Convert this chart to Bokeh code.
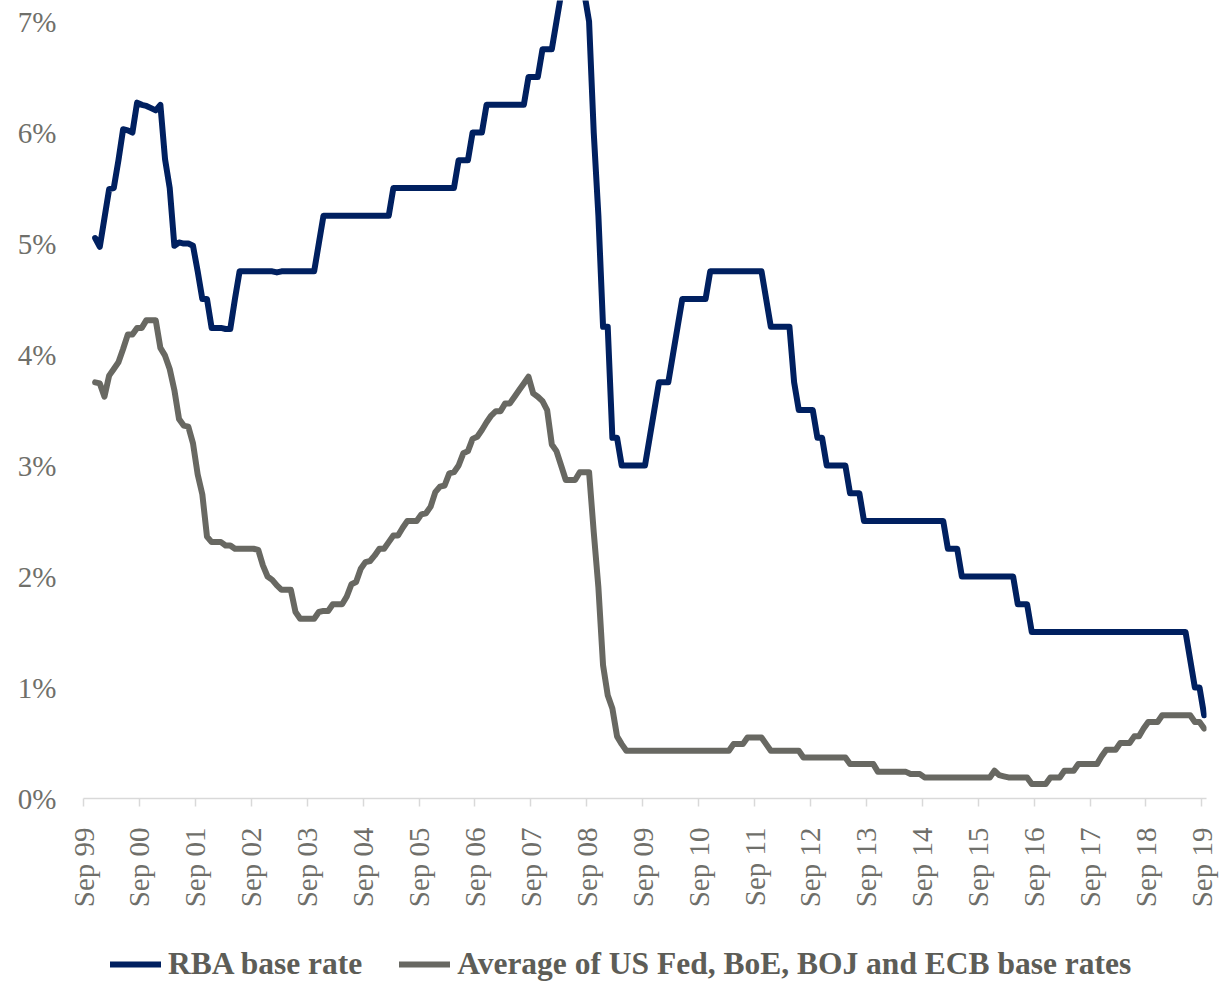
import math
import numpy as np
import pandas as pd
from bokeh.plotting import figure
from bokeh.layouts import column
from bokeh.models import Range1d, FixedTicker, PrintfTickFormatter, Legend, LegendItem
from bokeh.embed import file_html
from bokeh.resources import INLINE

# ---------------- data (monthly, Nov 1999 .. Sep 2019) ----------------
first_month = "1999-11"
last_month = "2019-09"
axis_start = "1999-09"

tick_labels = ["Sep 99", "Sep 00", "Sep 01", "Sep 02", "Sep 03", "Sep 04", "Sep 05",
               "Sep 06", "Sep 07", "Sep 08", "Sep 09", "Sep 10", "Sep 11", "Sep 12",
               "Sep 13", "Sep 14", "Sep 15", "Sep 16", "Sep 17", "Sep 18", "Sep 19"]
y_ticks = [0, 1, 2, 3, 4, 5, 6, 7]

rba_rate = [
    5.05, 4.97,                                                          # 1999 Nov-Dec
    5.23, 5.49, 5.5, 5.75, 6.03, 6.02, 6.0, 6.27, 6.25, 6.24, 6.22, 6.2,  # 2000
    6.25, 5.76, 5.5, 4.98, 5.01, 5.0, 5.0, 4.98, 4.75, 4.5, 4.5, 4.24,    # 2001
    4.24, 4.24, 4.23, 4.23, 4.5, 4.75, 4.75, 4.75, 4.75, 4.75, 4.75, 4.75,  # 2002
    4.75, 4.74, 4.75, 4.75, 4.75, 4.75, 4.75, 4.75, 4.75, 4.75, 5.0, 5.25,  # 2003
    5.25, 5.25, 5.25, 5.25, 5.25, 5.25, 5.25, 5.25, 5.25, 5.25, 5.25, 5.25,  # 2004
    5.25, 5.25, 5.5, 5.5, 5.5, 5.5, 5.5, 5.5, 5.5, 5.5, 5.5, 5.5,           # 2005
    5.5, 5.5, 5.5, 5.5, 5.75, 5.75, 5.75, 6.0, 6.0, 6.0, 6.25, 6.25,        # 2006
    6.25, 6.25, 6.25, 6.25, 6.25, 6.25, 6.25, 6.5, 6.5, 6.5, 6.75, 6.75,    # 2007
    6.75, 7.0, 7.25, 7.25, 7.25, 7.25, 7.25, 7.25, 7.0, 6.0, 5.25, 4.25,    # 2008
    4.25, 3.25, 3.25, 3.0, 3.0, 3.0, 3.0, 3.0, 3.0, 3.25, 3.5, 3.75,        # 2009
    3.75, 3.75, 4.0, 4.25, 4.5, 4.5, 4.5, 4.5, 4.5, 4.5, 4.75, 4.75,        # 2010
    4.75, 4.75, 4.75, 4.75, 4.75, 4.75, 4.75, 4.75, 4.75, 4.75, 4.5, 4.25,  # 2011
    4.25, 4.25, 4.25, 4.25, 3.75, 3.5, 3.5, 3.5, 3.5, 3.25, 3.25, 3.0,      # 2012
    3.0, 3.0, 3.0, 3.0, 2.75, 2.75, 2.75, 2.5, 2.5, 2.5, 2.5, 2.5,          # 2013
    2.5, 2.5, 2.5, 2.5, 2.5, 2.5, 2.5, 2.5, 2.5, 2.5, 2.5, 2.5,             # 2014
    2.5, 2.25, 2.25, 2.25, 2.0, 2.0, 2.0, 2.0, 2.0, 2.0, 2.0, 2.0,          # 2015
    2.0, 2.0, 2.0, 2.0, 1.75, 1.75, 1.75, 1.5, 1.5, 1.5, 1.5, 1.5,          # 2016
    1.5, 1.5, 1.5, 1.5, 1.5, 1.5, 1.5, 1.5, 1.5, 1.5, 1.5, 1.5,             # 2017
    1.5, 1.5, 1.5, 1.5, 1.5, 1.5, 1.5, 1.5, 1.5, 1.5, 1.5, 1.5,             # 2018
    1.5, 1.5, 1.5, 1.5, 1.5, 1.25, 1.0, 1.0, 0.75,                          # 2019 Jan-Sep
]

avg_rate = [
    3.75, 3.74,                                                                # 1999 Nov-Dec
    3.62, 3.81, 3.87, 3.93, 4.05, 4.18, 4.18, 4.24, 4.24, 4.31, 4.31, 4.31,   # 2000
    4.06, 3.99, 3.87, 3.68, 3.42, 3.36, 3.35, 3.2, 2.92, 2.74, 2.36, 2.31,    # 2001
    2.31, 2.31, 2.28, 2.28, 2.25, 2.25, 2.25, 2.25, 2.25, 2.24, 2.1, 2.0,     # 2002
    1.97, 1.92, 1.88, 1.88, 1.88, 1.68, 1.62, 1.62, 1.62, 1.62, 1.68, 1.69,   # 2003
    1.69, 1.75, 1.75, 1.75, 1.82, 1.93, 1.95, 2.07, 2.13, 2.14, 2.19, 2.25,   # 2004
    2.25, 2.31, 2.37, 2.37, 2.44, 2.5, 2.5, 2.5, 2.56, 2.57, 2.63, 2.76,      # 2005
    2.81, 2.82, 2.93, 2.94, 3.0, 3.11, 3.13, 3.24, 3.26, 3.32, 3.39, 3.45,    # 2006
    3.49, 3.49, 3.56, 3.56, 3.62, 3.68, 3.74, 3.80, 3.65, 3.62, 3.58, 3.5,    # 2007
    3.19, 3.13, 3.0, 2.87, 2.87, 2.87, 2.94, 2.94, 2.94, 2.4, 1.9, 1.2,       # 2008
    0.93, 0.81, 0.56, 0.49, 0.43, 0.43, 0.43, 0.43, 0.43, 0.43, 0.43, 0.43,   # 2009
    0.43, 0.43, 0.43, 0.43, 0.43, 0.43, 0.43, 0.43, 0.43, 0.43, 0.43, 0.43,   # 2010
    0.43, 0.43, 0.43, 0.49, 0.49, 0.49, 0.55, 0.55, 0.55, 0.55, 0.49, 0.43,   # 2011
    0.43, 0.43, 0.43, 0.43, 0.43, 0.43, 0.37, 0.37, 0.37, 0.37, 0.37, 0.37,   # 2012
    0.37, 0.37, 0.37, 0.37, 0.31, 0.31, 0.31, 0.31, 0.31, 0.31, 0.24, 0.24,   # 2013
    0.24, 0.24, 0.24, 0.24, 0.24, 0.22, 0.22, 0.22, 0.19, 0.19, 0.19, 0.19,   # 2014
    0.19, 0.19, 0.19, 0.19, 0.19, 0.19, 0.19, 0.19, 0.19, 0.19, 0.19, 0.25,   # 2015
    0.21, 0.2, 0.19, 0.19, 0.19, 0.19, 0.19, 0.13, 0.13, 0.13, 0.13, 0.19,    # 2016
    0.19, 0.19, 0.25, 0.25, 0.25, 0.31, 0.31, 0.31, 0.31, 0.31, 0.38, 0.44,   # 2017
    0.44, 0.44, 0.5, 0.5, 0.5, 0.56, 0.56, 0.63, 0.69, 0.69, 0.69, 0.75,      # 2018
    0.75, 0.75, 0.75, 0.75, 0.75, 0.75, 0.69, 0.69, 0.63,                     # 2019 Jan-Sep
]

series_names = ["RBA base rate", "Average of US Fed, BoE, BOJ and ECB base rates"]

# ---------------- positions (month bands, points at band centres) ----------------
months = pd.period_range(first_month, last_month, freq="M")
start = pd.Period(axis_start, freq="M")
x = np.array([(m - start).n for m in months], dtype=float) + 0.5
assert len(x) == len(rba_rate) == len(avg_rate)
n_bands = (pd.Period(last_month, freq="M") - start).n + 1
tick_pos = [12 * i for i in range(len(tick_labels))]

NAVY = "#002060"
GREY_LINE = "#686862"
TEXT = "#6f6f6a"
LEGEND_TEXT = "#5d5d57"
AXIS = "#d9d9d9"
FONT = "Liberation Serif"
LW = 6

p = figure(width=1220, height=910, output_backend="svg", toolbar_location=None,
           x_range=Range1d(0, n_bands), y_range=Range1d(0, 7.19),
           min_border_left=83, min_border_right=14, min_border_top=0, min_border_bottom=105)
p.outline_line_color = None
p.xgrid.visible = False
p.ygrid.visible = False
p.background_fill_color = "white"
p.border_fill_color = "white"

p.line(x, rba_rate, line_color=NAVY, line_width=LW, line_join="round", line_cap="round")
p.line(x, avg_rate, line_color=GREY_LINE, line_width=LW, line_join="round", line_cap="round")

# y axis
p.yaxis.ticker = FixedTicker(ticks=y_ticks)
p.yaxis.formatter = PrintfTickFormatter(format="%d%%")
p.yaxis.axis_line_color = None
p.yaxis.major_tick_line_color = None
p.yaxis.minor_tick_line_color = None
p.yaxis.major_tick_out = 0
p.yaxis.major_tick_in = 0
p.yaxis.major_label_standoff = 27
p.yaxis.major_label_text_font = FONT
p.yaxis.major_label_text_font_size = "29px"
p.yaxis.major_label_text_color = TEXT

# x axis
p.xaxis.ticker = FixedTicker(ticks=tick_pos)
p.xaxis.major_label_overrides = {t: lab for t, lab in zip(tick_pos, tick_labels)}
p.xaxis.major_label_orientation = math.pi / 2
p.xaxis.axis_line_color = AXIS
p.xaxis.axis_line_width = 1.5
p.xaxis.major_tick_line_color = AXIS
p.xaxis.major_tick_line_width = 1.5
p.xaxis.major_tick_out = 8
p.xaxis.major_tick_in = 0
p.xaxis.minor_tick_line_color = None
p.xaxis.major_label_standoff = 21
p.xaxis.major_label_text_font = FONT
p.xaxis.major_label_text_font_size = "29px"
p.xaxis.major_label_text_color = TEXT

# ---------------- legend strip below the chart ----------------
leg = figure(width=1220, height=72, output_backend="svg", toolbar_location=None,
             x_range=Range1d(0, 1), y_range=Range1d(0, 1),
             x_axis_type=None, y_axis_type=None, min_border=0)
leg.outline_line_color = None
leg.xgrid.visible = False
leg.ygrid.visible = False
# off-range stand-in lines so the legend can draw its line samples
lr1 = leg.line([-5, -4], [-5, -4], line_color=NAVY, line_width=LW, line_cap="round")
lr2 = leg.line([-5, -4], [-5, -4], line_color=GREY_LINE, line_width=LW, line_cap="round")
legend = Legend(items=[LegendItem(label=series_names[0], renderers=[lr1]),
                       LegendItem(label=series_names[1], renderers=[lr2])],
                location=(27, 0), orientation="horizontal",
                glyph_width=51, glyph_height=20, label_standoff=7, spacing=37,
                padding=0, margin=0, border_line_alpha=0, background_fill_alpha=0,
                label_text_font=FONT, label_text_font_style="bold",
                label_text_font_size="31.5px", label_text_color=LEGEND_TEXT)
leg.add_layout(legend, "center")

layout = column(p, leg, spacing=0)
open("out.html", "w").write(file_html(layout, INLINE))
